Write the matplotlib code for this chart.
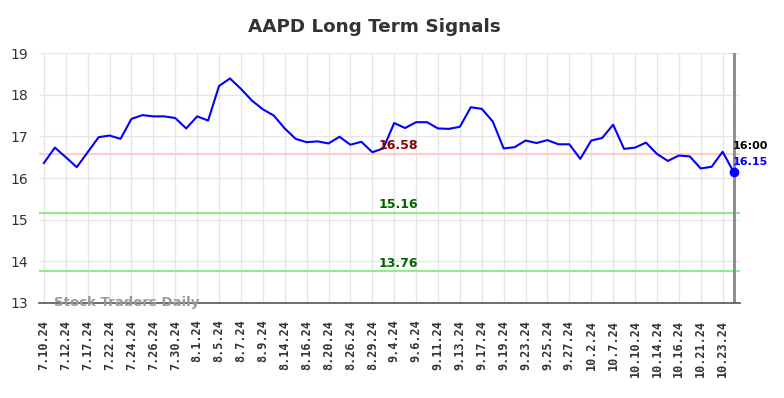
import numpy as np
import matplotlib
matplotlib.use("Agg")
import matplotlib.pyplot as plt

# closing prices, one per trading session shown
prices = [16.36, 16.73, 16.50, 16.26, 16.62, 16.98, 17.02, 16.94, 17.42, 17.51,
          17.48, 17.48, 17.44, 17.19, 17.48, 17.38, 18.21, 18.39, 18.14, 17.86,
          17.65, 17.50, 17.19, 16.94, 16.86, 16.88, 16.83, 16.99, 16.80, 16.87,
          16.62, 16.71, 17.32, 17.20, 17.34, 17.34, 17.19, 17.18, 17.23, 17.70,
          17.66, 17.36, 16.71, 16.74, 16.90, 16.84, 16.91, 16.81, 16.81, 16.46,
          16.90, 16.96, 17.28, 16.70, 16.73, 16.85, 16.58, 16.41, 16.54, 16.52,
          16.23, 16.27, 16.63, 16.15]

# every other session gets a label
tick_labels = ['7.10.24', '7.12.24', '7.17.24', '7.22.24', '7.24.24', '7.26.24',
               '7.30.24', '8.1.24', '8.5.24', '8.7.24', '8.9.24', '8.14.24',
               '8.16.24', '8.20.24', '8.26.24', '8.29.24', '9.4.24', '9.6.24',
               '9.11.24', '9.13.24', '9.17.24', '9.19.24', '9.23.24', '9.25.24',
               '9.27.24', '10.2.24', '10.7.24', '10.10.24', '10.14.24', '10.16.24',
               '10.21.24', '10.23.24']

resistance = 16.58
supports = [15.16, 13.76]
last_time = '16:00'

x = np.arange(len(prices))

fig = plt.figure(figsize=(7.84, 3.98), dpi=100)
ax = fig.add_axes([0.050, 0.2387, 0.894, 0.628])

ax.plot(x, prices, color='blue', lw=1.5, zorder=3)
ax.plot(x[-1], prices[-1], 'o', color='blue', ms=6, zorder=4)

ax.axhline(resistance, color='#ffcccc', lw=1.5, zorder=2)
for s in supports:
    ax.axhline(s, color='#90ee90', lw=1.5, zorder=2)

mid = 32.4
ax.text(mid, resistance + 0.04, f'{resistance:.2f}', color='#8b0000', fontsize=9,
        fontweight='bold', ha='center', va='bottom')
for s in supports:
    ax.text(mid, s + 0.04, f'{s:.2f}', color='#006400', fontsize=9,
            fontweight='bold', ha='center', va='bottom')

# marker for the latest session
ax.axvline(x[-1], color='#888888', lw=2, zorder=2)
ax.text(x[-1] - 0.1, prices[-1] + 0.61, last_time, color='black', fontsize=8,
        fontweight='bold', ha='left', va='center')
ax.text(x[-1] - 0.1, prices[-1] + 0.24, f'{prices[-1]:.2f}', color='blue', fontsize=8,
        fontweight='bold', ha='left', va='center')

ax.text(0.9, 13.0, 'Stock Traders Daily', color='#999999', fontsize=9.5,
        fontweight='bold', ha='left', va='center', zorder=5)

ax.set_xlim(-0.43, 63.6)
ax.set_ylim(13, 19)
ax.set_yticks(range(13, 20))
ax.set_xticks(x[::2])
ax.set_xticklabels(tick_labels, rotation=90, fontsize=8.5, fontweight='bold',
                   fontfamily='DejaVu Sans Mono')
ax.tick_params(axis='x', length=0, pad=12, colors='#333333')
ax.tick_params(axis='y', length=0, pad=8, labelsize=10, colors='#333333')

ax.grid(True, color='#e6e6e6', lw=1)
ax.set_axisbelow(True)
for side in ['top', 'right', 'left']:
    ax.spines[side].set_visible(False)
ax.spines['bottom'].set_color('#555555')
ax.spines['bottom'].set_linewidth(1.2)

fig.text(0.477, 0.933, 'AAPD Long Term Signals', ha='center', va='center',
         fontsize=13.2, fontweight='bold', color='#333333')

fig.savefig('out.png', dpi=100)
